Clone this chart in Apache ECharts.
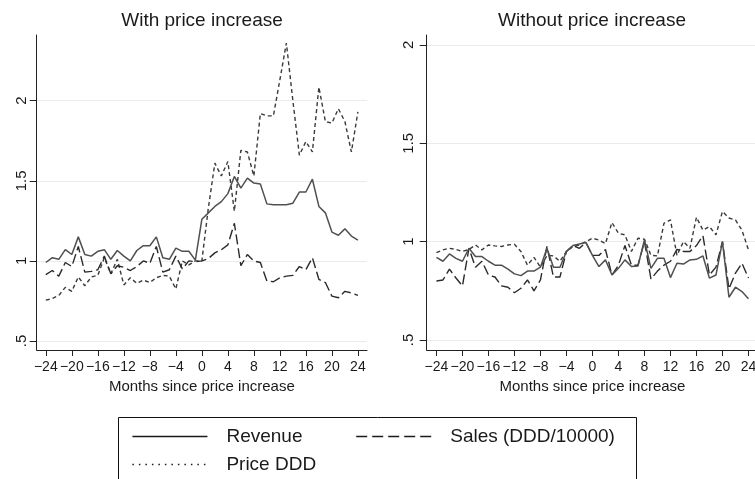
<!DOCTYPE html>
<html>
<head>
<meta charset="utf-8">
<script src="https://cdn.jsdelivr.net/npm/echarts@6/dist/echarts.min.js"></script>
<style>
  html, body { margin: 0; padding: 0; background: #fff; }
  #chart { width: 755px; height: 479px; }
</style>
</head>
<body>
<div id="chart"></div>
<script>
// Months relative to the price change
const months = [-24, -23, -22, -21, -20, -19, -18, -17, -16, -15, -14, -13, -12, -11, -10, -9, -8, -7, -6, -5, -4, -3, -2, -1,
  0, 1, 2, 3, 4, 5, 6, 7, 8, 9, 10, 11, 12, 13, 14, 15, 16, 17, 18, 19, 20, 21, 22, 23, 24];

const xTicks = [-24, -20, -16, -12, -8, -4, 0, 4, 8, 12, 16, 20, 24];
const yTicks = [0.5, 1, 1.5, 2];

const panelTitles = ['With price increase', 'Without price increase'];
const xAxisTitle = 'Months since price increase';
const seriesNames = ['Revenue', 'Sales (DDD/10000)', 'Price DDD'];

// Products with a price increase
const withRevenue = [0.99, 1.02, 1.01, 1.07, 1.04, 1.15, 1.04, 1.03, 1.06, 1.07, 1.01, 1.065, 1.03, 1.0, 1.065, 1.095, 1.095, 1.15, 1.02, 1.01, 1.08, 1.06, 1.06, 1.005,
  1.26, 1.30, 1.34, 1.37, 1.42, 1.527, 1.454, 1.517, 1.486, 1.48, 1.356, 1.35, 1.35, 1.35, 1.36, 1.43, 1.43, 1.51, 1.34, 1.30, 1.18, 1.16, 1.20, 1.155, 1.13];
const withSales = [0.915, 0.94, 0.905, 0.99, 0.965, 1.09, 0.93, 0.935, 0.945, 1.03, 0.92, 0.97, 0.96, 0.94, 0.965, 1.0, 0.985, 1.09, 0.93, 0.945, 1.03, 0.95, 1.0, 0.995,
  1.0, 1.015, 1.05, 1.07, 1.10, 1.235, 0.97, 1.04, 1.0, 0.99, 0.875, 0.87, 0.895, 0.905, 0.91, 0.965, 0.945, 1.02, 0.885, 0.865, 0.78, 0.77, 0.81, 0.80, 0.785];
const withPrice = [0.755, 0.765, 0.785, 0.835, 0.81, 0.90, 0.845, 0.90, 0.91, 1.02, 0.92, 1.01, 0.85, 0.895, 0.86, 0.88, 0.865, 0.895, 0.91, 0.905, 0.825, 1.0, 0.975, 1.0,
  1.0, 1.33, 1.61, 1.53, 1.62, 1.31, 1.69, 1.68, 1.53, 1.92, 1.905, 1.905, 2.13, 2.36, 2.0, 1.66, 1.745, 1.68, 2.085, 1.87, 1.86, 1.95, 1.87, 1.68, 1.93];

// Products without a price increase
const withoutRevenue = [0.92, 0.90, 0.937, 0.915, 0.90, 0.966, 0.924, 0.924, 0.90, 0.88, 0.88, 0.86, 0.836, 0.827, 0.85, 0.85, 0.87, 0.966, 0.87, 0.87, 0.95, 0.98, 0.988, 0.995,
  0.93, 0.873, 0.907, 0.83, 0.864, 0.907, 0.873, 0.876, 1.008, 0.864, 0.915, 0.915, 0.817, 0.89, 0.886, 0.907, 0.91, 0.927, 0.814, 0.83, 1.0, 0.717, 0.768, 0.746, 0.71];
const withoutSales = [0.80, 0.805, 0.86, 0.815, 0.775, 0.966, 0.87, 0.90, 0.83, 0.82, 0.775, 0.768, 0.74, 0.763, 0.805, 0.75, 0.805, 0.975, 0.82, 0.82, 0.95, 0.98, 0.966, 0.995,
  0.93, 0.93, 0.96, 0.83, 0.88, 0.98, 0.88, 0.88, 1.0, 0.81, 0.85, 0.88, 0.90, 0.96, 0.95, 0.95, 0.98, 1.03, 0.83, 0.87, 1.0, 0.76, 0.84, 0.89, 0.815];
const withoutPrice = [0.944, 0.958, 0.966, 0.96, 0.95, 0.96, 0.983, 0.958, 0.983, 0.978, 0.975, 0.983, 0.986, 0.95, 0.88, 0.92, 0.87, 0.93, 0.927, 0.90, 0.95, 0.975, 0.983, 1.0,
  1.017, 1.008, 0.99, 1.097, 1.042, 1.034, 0.95, 1.017, 1.012, 0.93, 0.927, 1.093, 1.11, 0.93, 1.0, 0.966, 1.124, 1.058, 1.076, 1.034, 1.153, 1.12, 1.11, 1.058, 0.958];

const FONT = "'Liberation Sans', Arial, Helvetica, sans-serif";
const INK = '#1a1a1a';

const lineStyles = [
  { color: '#505050', width: 1.5, type: 'solid' },
  { color: '#2a2a2a', width: 1.4, type: [10, 4] },
  { color: '#3a3a3a', width: 1.4, type: [4, 3] }
];

const pairs = vals => months.map((m, i) => [m, vals[i]]);

function makeSeries(vals, k, panel) {
  return {
    name: seriesNames[k],
    type: 'line',
    xAxisIndex: panel,
    yAxisIndex: panel,
    data: pairs(vals),
    symbol: 'none',
    silent: true,
    animation: false,
    lineStyle: lineStyles[k],
    itemStyle: { color: lineStyles[k].color },
    z: 3 - k
  };
}

const minus = v => String(v).replace('-', '\u2212');
const dotFmt = v => String(v).replace(/^0\./, '.');

function xAxisFor(panel) {
  return {
    type: 'value',
    gridIndex: panel,
    min: panel === 0 ? -25.4 : -25.5,
    max: panel === 0 ? 25.4 : 25.5,
    name: xAxisTitle,
    nameLocation: 'middle',
    nameGap: 24,
    nameTextStyle: { fontFamily: FONT, fontSize: 15, color: INK },
    axisLine: { show: true, onZero: false, lineStyle: { color: '#222', width: 1 } },
    axisTick: { show: true, length: 6, customValues: xTicks, lineStyle: { color: '#222' } },
    axisLabel: { customValues: xTicks, formatter: minus, margin: 10, fontFamily: FONT, fontSize: 14, color: INK, hideOverlap: false },
    splitLine: { show: false }
  };
}

function yAxisFor(panel) {
  return {
    type: 'value',
    gridIndex: panel,
    min: panel === 0 ? 0.444 : 0.449,
    max: panel === 0 ? 2.41 : 2.05,
    axisLine: { show: true, onZero: false, lineStyle: { color: '#222', width: 1 } },
    axisTick: { show: true, length: 7, customValues: yTicks, lineStyle: { color: '#222' } },
    axisLabel: { customValues: yTicks, formatter: dotFmt, rotate: 90, margin: panel === 0 ? 7 : 10, fontFamily: FONT, fontSize: 15, color: INK },
    splitLine: { show: true, lineStyle: { color: '#ebebeb', width: 1 } }
  };
}

const chart = echarts.init(document.getElementById('chart'), null, { renderer: 'canvas' });

const legendText = { fontFamily: FONT, fontSize: 19, color: INK, padding: [0, 0, 0, 14] };

chart.setOption({
  backgroundColor: '#ffffff',
  animation: false,
  textStyle: { fontFamily: FONT },
  title: [
    { text: panelTitles[0], left: 202, top: 11, textAlign: 'center', padding: 0,
      textStyle: { fontFamily: FONT, fontSize: 19, fontWeight: 'normal', color: INK } },
    { text: panelTitles[1], left: 592, top: 11, textAlign: 'center', padding: 0,
      textStyle: { fontFamily: FONT, fontSize: 19, fontWeight: 'normal', color: INK } }
  ],
  grid: [
    { left: 36.7, right: 388, top: 35, bottom: 129, containLabel: false, outerBoundsMode: 'none' },
    { left: 426.7, right: -3.2, top: 35, bottom: 129, containLabel: false, outerBoundsMode: 'none' }
  ],
  xAxis: [xAxisFor(0), xAxisFor(1)],
  yAxis: [yAxisFor(0), yAxisFor(1)],
  legend: [
    {
      data: [
        { name: seriesNames[0], lineStyle: { color: '#1a1a1a', width: 1.5 } },
        { name: seriesNames[1], lineStyle: { color: '#1a1a1a', width: 1.4, type: [11, 5] } }
      ],
      left: 131.7, top: 427, padding: 0,
      itemWidth: 75, itemHeight: 14, itemGap: 53,
      selectedMode: false,
      itemStyle: { opacity: 0 },
      textStyle: legendText
    },
    {
      data: [{ name: seriesNames[2], lineStyle: { type: [1.5, 5], width: 1.4, color: '#1a1a1a' } }],
      left: 131.7, top: 455, padding: 0,
      itemWidth: 75, itemHeight: 14,
      selectedMode: false,
      itemStyle: { opacity: 0 },
      textStyle: legendText
    }
  ],
  graphic: [
    {
      type: 'rect', silent: true, z: 0,
      shape: { x: 118.5, y: 417.5, width: 518, height: 90 },
      style: { fill: 'none', stroke: '#111', lineWidth: 1 }
    }
  ],
  series: [
    makeSeries(withRevenue, 0, 0),
    makeSeries(withSales, 1, 0),
    makeSeries(withPrice, 2, 0),
    makeSeries(withoutRevenue, 0, 1),
    makeSeries(withoutSales, 1, 1),
    makeSeries(withoutPrice, 2, 1)
  ]
});
</script>
</body>
</html>
